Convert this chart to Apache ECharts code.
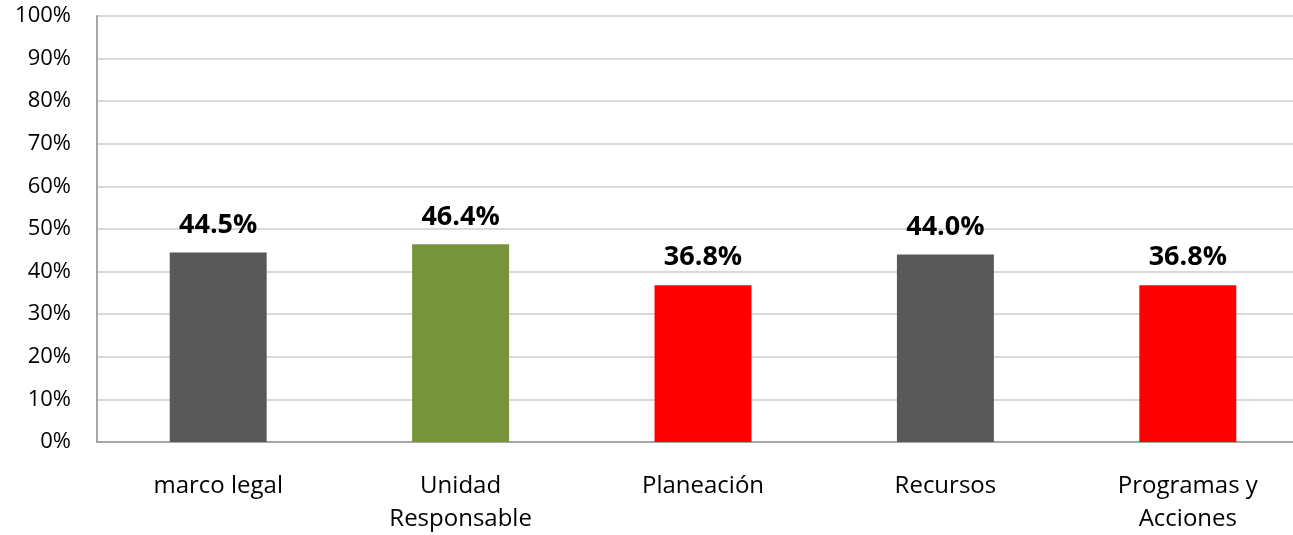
<!DOCTYPE html>
<html>
<head>
<meta charset="utf-8">
<script src="https://cdn.jsdelivr.net/npm/echarts@6/dist/echarts.min.js"></script>
<style>
  html, body { margin: 0; padding: 0; background: #fff; }
  #chart { width: 1293px; height: 535px; }
</style>
</head>
<body>
<div id="chart"></div>
<script>
// 数据
var categories = ['marco legal', 'Unidad\nResponsable', 'Planeación', 'Recursos', 'Programas y\nAcciones'];
var values = [44.5, 46.4, 36.8, 44.0, 36.8];
var barColors = ['#595959', '#77933C', '#FF0000', '#595959', '#FF0000'];

var chart = echarts.init(document.getElementById('chart'));

var option = {
  animation: false,
  // 绘图区比画布宽一点, 右边被裁掉
  grid: { left: 97, top: 16, bottom: 93, width: 1212, containLabel: false, outerBoundsMode: 'none' },
  xAxis: {
    type: 'category',
    data: categories,
    axisTick: { show: false },
    axisLine: { lineStyle: { color: '#A6A6A6', width: 2 } },
    axisLabel: {
      color: '#000',
      fontFamily: 'Open Sans',
      fontSize: 24,
      lineHeight: 33,
      margin: 28
    }
  },
  yAxis: {
    type: 'value',
    min: 0,
    max: 100,
    interval: 10,
    axisLine: { show: true, lineStyle: { color: '#A6A6A6', width: 2 } },
    axisTick: { show: false },
    splitLine: { lineStyle: { color: '#D9D9D9', width: 2 } },
    axisLabel: {
      color: '#000',
      fontFamily: 'Open Sans',
      fontSize: 22,
      margin: 26,
      formatter: '{value}%'
    }
  },
  series: [{
    type: 'bar',
    barWidth: '40%',
    data: values.map(function (v, i) {
      return { value: v, itemStyle: { color: barColors[i] } };
    }),
    label: {
      show: true,
      position: 'top',
      distance: 14,
      color: '#000',
      fontFamily: 'Open Sans',
      fontWeight: 'bold',
      fontSize: 27,
      formatter: function (p) { return p.value.toFixed(1) + '%'; }
    }
  }]
};

chart.setOption(option);
</script>
</body>
</html>
